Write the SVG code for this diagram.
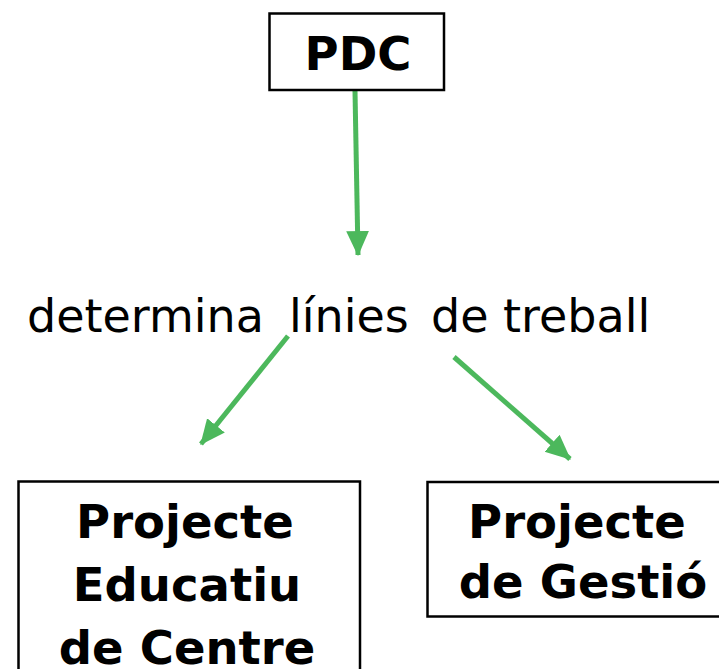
<svg xmlns="http://www.w3.org/2000/svg" width="719" height="669" viewBox="0 0 719 669">
<defs>
<style>
.box{fill:#fff;stroke:#000;stroke-width:2.5}
.bt{font-family:"DejaVu Sans",Verdana,sans-serif;font-weight:bold;font-size:46.5px;fill:#000;text-anchor:middle}
.mt{font-family:"DejaVu Sans",Verdana,sans-serif;font-size:46px;fill:#000}
.arr{stroke:#4cb85c;stroke-width:5;fill:none;marker-end:url(#ah)}
</style>
<marker id="ah" markerWidth="5" markerHeight="5" refX="4.2" refY="2" orient="auto" markerUnits="strokeWidth" viewBox="0 0 4.4 4">
<path d="M0,0 L4.4,2 L0,4 Z" fill="#4cb85c"/>
</marker>
</defs>
<rect width="719" height="669" fill="#fff"/>
<g id="connectors">
<line class="arr" x1="355" y1="91" x2="358" y2="255"/>
<line class="arr" x1="288" y1="336" x2="201" y2="444"/>
<line class="arr" x1="454" y1="357" x2="570" y2="459"/>
</g>
<g id="pdc">
<rect class="box" x="269.5" y="13.5" width="174.5" height="76.5"/>
<text class="bt" x="358" y="70">PDC</text>
</g>
<g id="label">
<text class="mt" y="332"><tspan x="27">determina</tspan><tspan x="289">línies</tspan><tspan x="431">de</tspan><tspan x="503">treball</tspan></text>
</g>
<g id="pec">
<rect class="box" x="18.5" y="481.5" width="341.5" height="200"/>
<text class="bt" x="185" y="538">Projecte</text>
<text class="bt" x="187" y="601">Educatiu</text>
<text class="bt" x="187" y="664">de Centre</text>
</g>
<g id="pg">
<rect class="box" x="427.5" y="482" width="310" height="134.5"/>
<text class="bt" x="577" y="538">Projecte</text>
<text class="bt" x="583" y="598">de Gestió</text>
</g>
</svg>
